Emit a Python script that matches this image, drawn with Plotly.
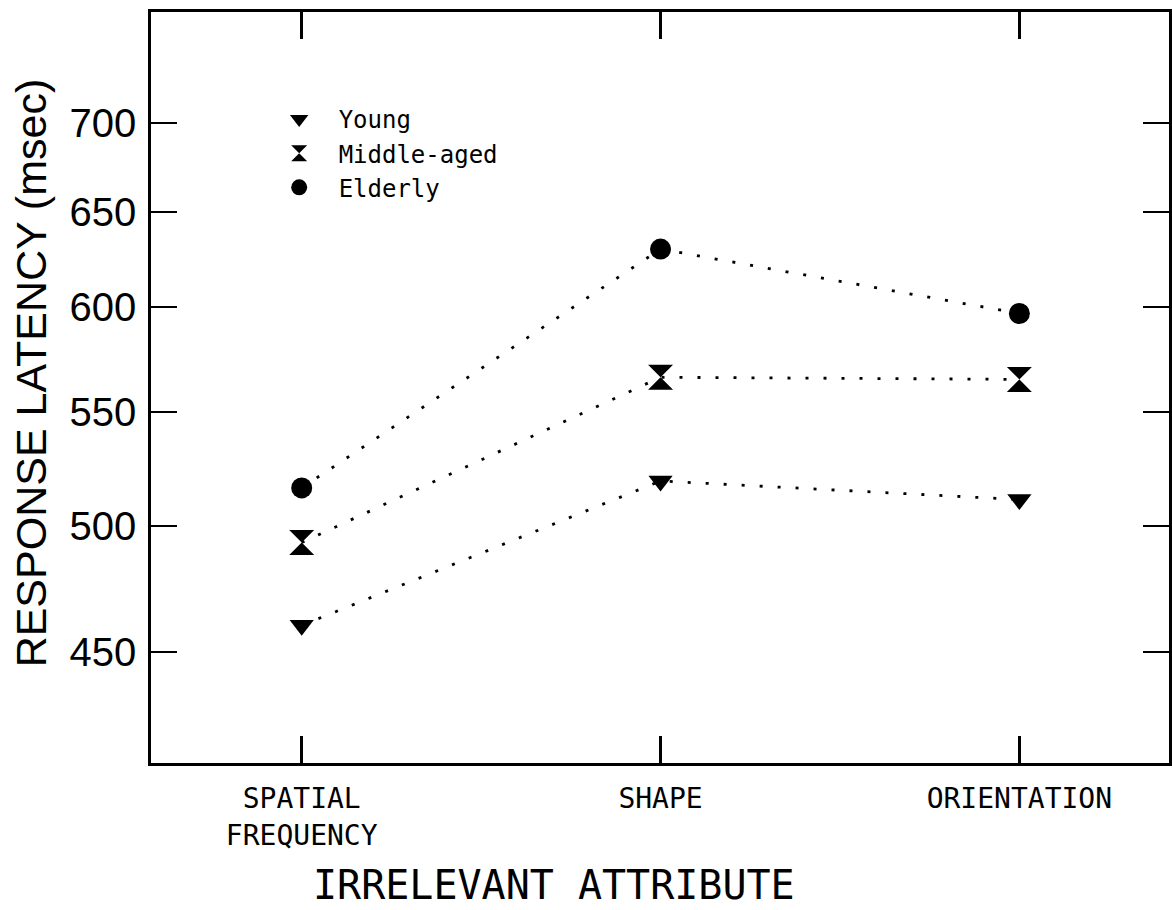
import plotly.graph_objects as go

categories = ["SPATIAL<br>FREQUENCY", "SHAPE", "ORIENTATION"]
cat_pos = [0, 1, 2]
young = [460, 519, 511]
middle = [493, 566, 565]
elderly = [516, 630, 597]
y_ticks = [450, 500, 550, 600, 650, 700]
y_ticktext = ["450", "500", "550", "600", "650", "700"]

series = [
    ("Young", young, "triangle-down", 21),
    ("Middle-aged", middle, "hourglass", 25),
    ("Elderly", elderly, "circle", 21),
]

fig = go.Figure()
for name, vals, sym, sz in series:
    fig.add_trace(go.Scatter(
        x=cat_pos, y=vals, mode="lines+markers", name=name, showlegend=False,
        line=dict(color="black", width=2.8, dash="3px,15px"),
        marker=dict(symbol=sym, size=sz, color="black", line=dict(width=0)),
    ))
for name, vals, sym, sz in series:
    fig.add_trace(go.Scatter(
        x=[None], y=[None], mode="markers", name="\u00a0" + name, showlegend=True,
        marker=dict(symbol=sym, size=sz, color="black", line=dict(width=0)),
    ))

mono = "DejaVu Sans Mono"
fig.update_layout(
    width=1172, height=910,
    margin=dict(l=151, r=0, t=12, b=147),
    paper_bgcolor="white", plot_bgcolor="white",
    showlegend=True,
    legend=dict(x=0.121, y=0.887, xanchor="left", yanchor="top",
                font=dict(family=mono, size=24, color="black"),
                bgcolor="rgba(0,0,0,0)", itemsizing="trace", tracegroupgap=0,
                itemwidth=40),
    xaxis=dict(range=[-0.42, 2.417], tickvals=cat_pos, ticktext=categories,
               showline=True, linecolor="black", linewidth=2.5, mirror="ticks",
               ticks="inside", ticklen=27, tickwidth=2.5, tickcolor="black",
               showgrid=False, zeroline=False,
               tickfont=dict(family=mono, size=28, color="black"),
               ticklabelstandoff=9),
    yaxis=dict(type="log", range=[2.6128, 2.8854], tickvals=y_ticks, ticktext=y_ticktext,
               showline=True, linecolor="black", linewidth=2.5, mirror="ticks",
               ticks="inside", ticklen=26, tickwidth=2, tickcolor="black",
               showgrid=False, zeroline=False,
               tickfont=dict(family="Liberation Sans", size=40, color="black"),
               ticklabelstandoff=4),
    annotations=[
        dict(text="RESPONSE LATENCY (msec)", textangle=-90, xref="paper", yref="paper",
             x=-0.117, y=0.52, xanchor="center", yanchor="middle", showarrow=False,
             font=dict(family="Liberation Sans", size=43, color="black")),
        dict(text="IRRELEVANT ATTRIBUTE", xref="paper", yref="paper",
             x=0.396, y=-0.162, xanchor="center", yanchor="middle", showarrow=False,
             font=dict(family=mono, size=40, color="black")),
    ],
)

fig.write_html("out.html")
